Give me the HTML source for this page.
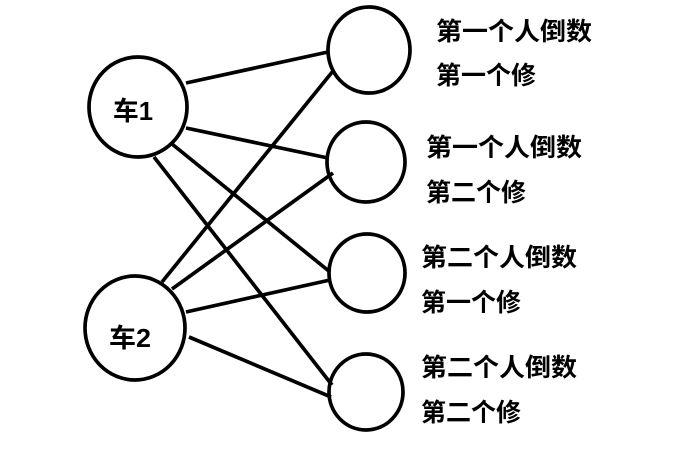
<!DOCTYPE html>
<html><head><meta charset="utf-8"><style>
html,body{margin:0;padding:0;background:#fff;}
svg{display:block;}
text{font-family:"Liberation Sans","Noto Sans CJK SC",sans-serif;font-weight:bold;fill:#000;}
</style></head><body>
<svg width="680" height="462" viewBox="0 0 680 462" xmlns="http://www.w3.org/2000/svg">
<g stroke="#000" stroke-width="3.7" fill="none">
<line x1="186" y1="83" x2="328" y2="52"/>
<line x1="186" y1="128" x2="328" y2="158"/>
<line x1="172" y1="144" x2="330" y2="272"/>
<line x1="154" y1="157" x2="332" y2="385"/>
<line x1="162" y1="282" x2="333" y2="71"/>
<line x1="172" y1="289" x2="333" y2="173"/>
<line x1="186" y1="312" x2="330" y2="280"/>
<line x1="189" y1="337" x2="331" y2="397"/>
<ellipse cx="138" cy="107" rx="49" ry="50"/>
<ellipse cx="135" cy="328" rx="50" ry="52"/>
<ellipse cx="369" cy="50" rx="41" ry="43"/>
<ellipse cx="366" cy="162" rx="39" ry="40"/>
<ellipse cx="367" cy="273" rx="38" ry="39"/>
<ellipse cx="366" cy="392" rx="37" ry="38"/>
</g>
<g font-size="26">
<text x="113" y="120" textLength="40" lengthAdjust="spacingAndGlyphs">车1</text>
<text x="109" y="347" textLength="42" lengthAdjust="spacingAndGlyphs">车2</text>
</g>
<g font-size="25">
<text x="436" y="40" textLength="156" lengthAdjust="spacingAndGlyphs">第一个人倒数</text>
<text x="436" y="84">第一个修</text>
<text x="426" y="156" textLength="156" lengthAdjust="spacingAndGlyphs">第一个人倒数</text>
<text x="426" y="201">第二个修</text>
<text x="421" y="266" textLength="156" lengthAdjust="spacingAndGlyphs">第二个人倒数</text>
<text x="421" y="311">第一个修</text>
<text x="421" y="376" textLength="156" lengthAdjust="spacingAndGlyphs">第二个人倒数</text>
<text x="421" y="421">第二个修</text>
</g>
</svg>
</body></html>
